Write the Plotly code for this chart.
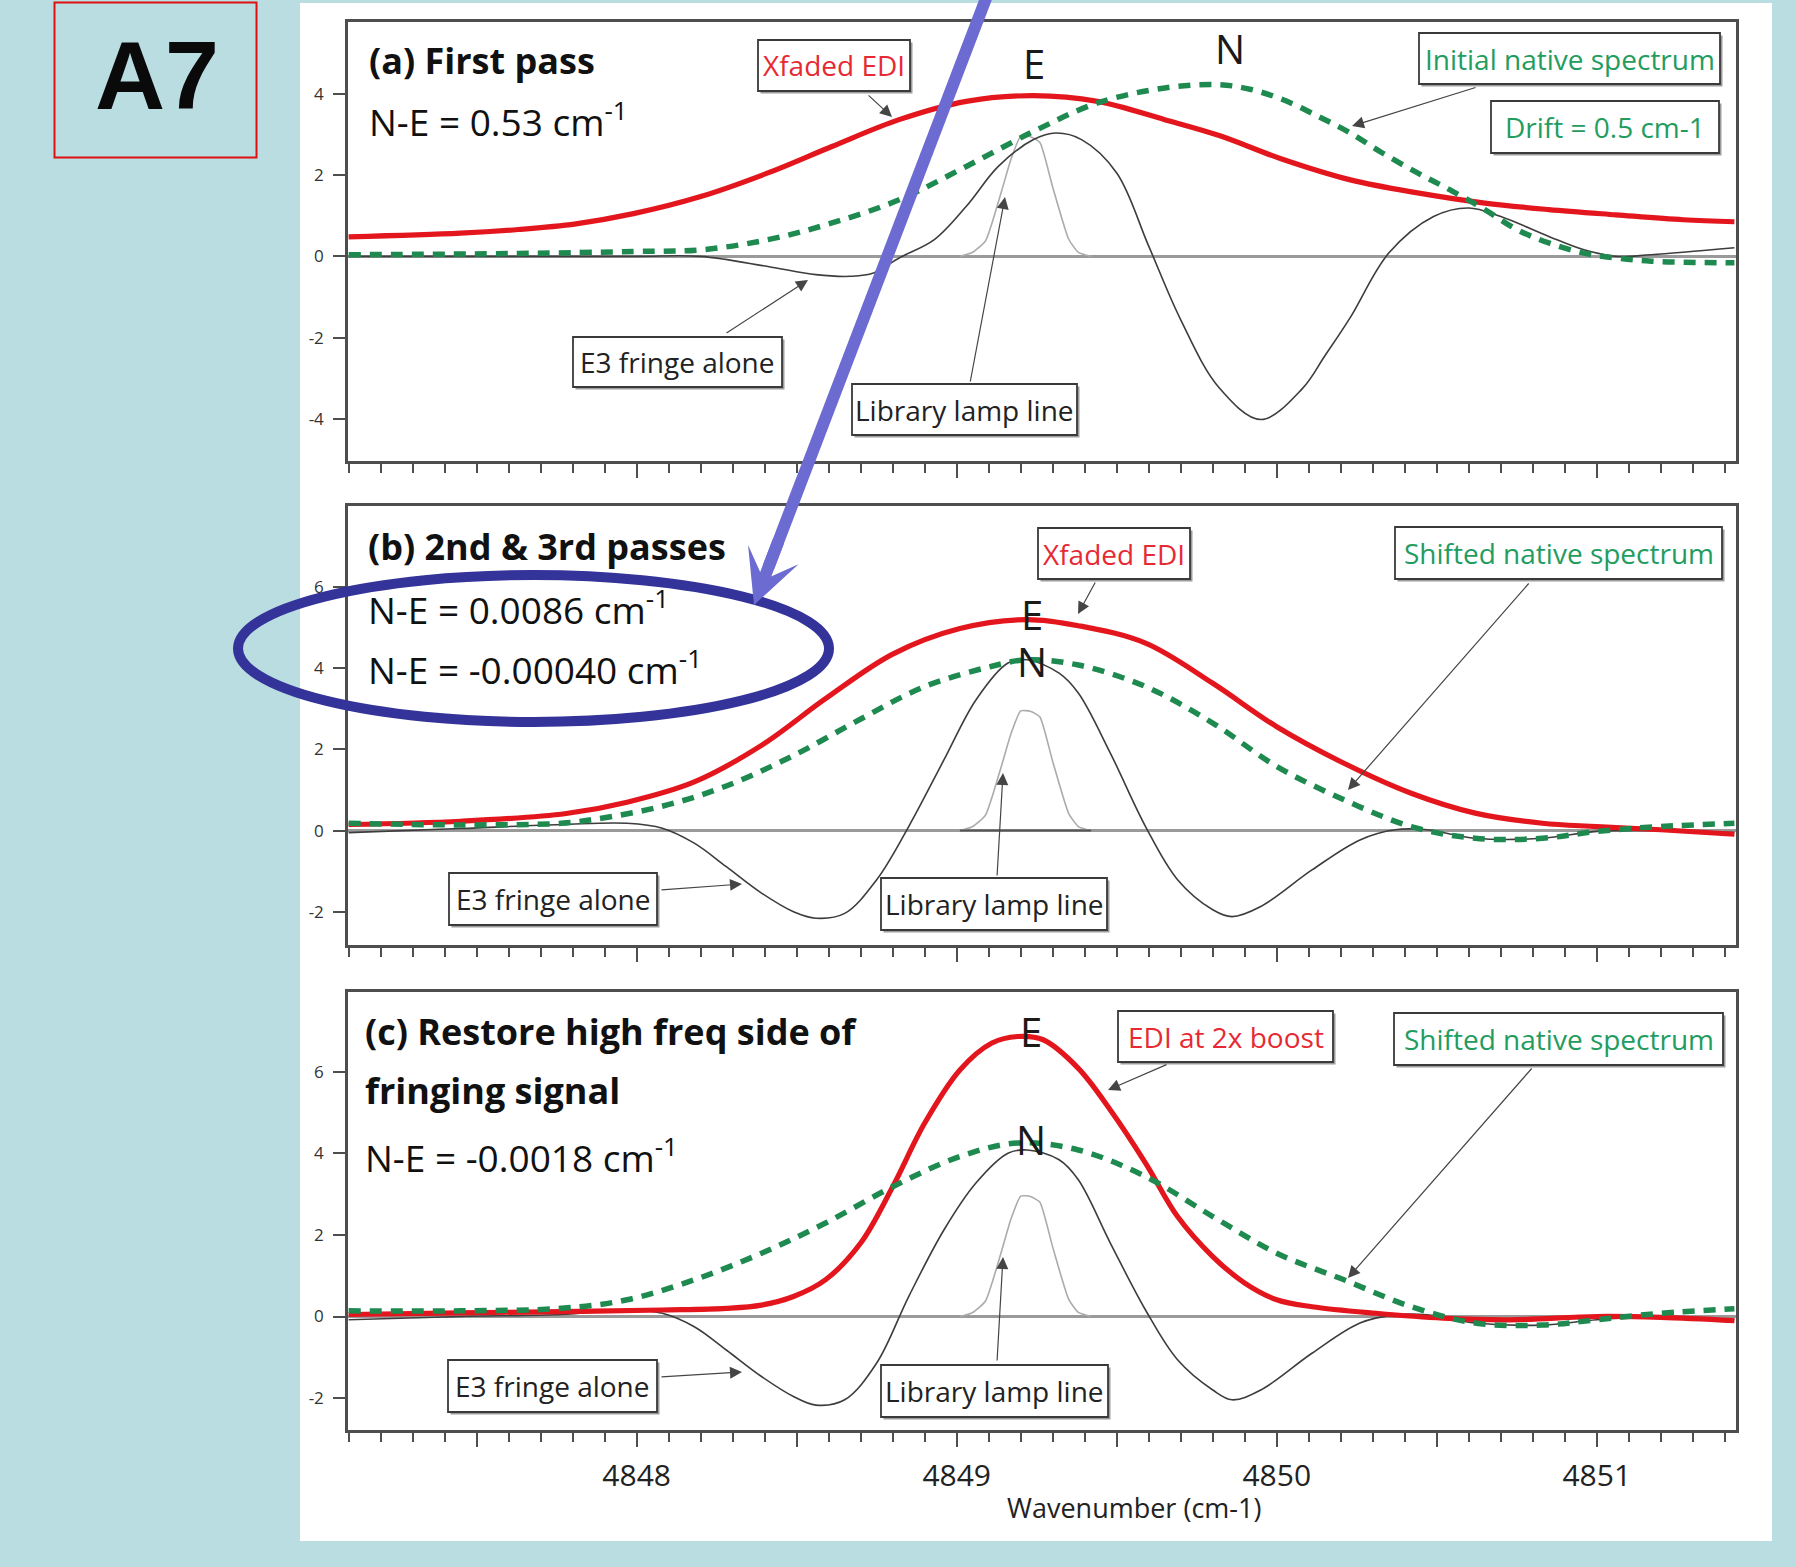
import plotly.graph_objects as go

W, H = 1796, 1567

# ------------------------------------------------------------------ data
X_RANGE = [4847.098, 4851.435]
Y_RANGES = [[-5.03, 5.76], [-2.82, 8.00], [-2.78, 7.95]]
X_TICKS = [4847.5, 4848.0, 4848.5, 4849.0, 4849.5, 4850.0, 4850.5, 4851.0]
X_TICK_LABELS = ["", "4848", "", "4849", "", "4850", "", "4851"]
Y_TICKS = [[-4, -2, 0, 2, 4], [-2, 0, 2, 4, 6], [-2, 0, 2, 4, 6]]
Y_TICK_LABELS = [["-4", "-2", "0", "2", "4"], ["-2", "0", "2", "4", "6"], ["-2", "0", "2", "4", "6"]]

LAMP_X = [4849.01, 4849.05, 4849.09, 4849.14, 4849.17, 4849.20, 4849.23, 4849.26, 4849.30, 4849.35, 4849.38, 4849.42]
LAMP_Y = [0.00, 0.10, 0.38, 1.60, 2.40, 2.95, 2.94, 2.80, 1.70, 0.42, 0.10, 0.00]

# panel (a) first pass
EDI_A_X = [4847.10, 4847.45, 4847.63, 4847.81, 4847.99, 4848.20, 4848.41, 4848.61, 4848.82, 4849.03, 4849.24,
           4849.44, 4849.65, 4849.82, 4850.02, 4850.23, 4850.44, 4850.65, 4850.85, 4851.06, 4851.27, 4851.43]
EDI_A_Y = [0.48, 0.57, 0.66, 0.80, 1.05, 1.47, 2.05, 2.70, 3.36, 3.81, 3.95,
           3.81, 3.36, 2.97, 2.38, 1.88, 1.56, 1.31, 1.15, 1.02, 0.90, 0.85]
NATIVE_A_X = [4847.10, 4847.63, 4847.99, 4848.20, 4848.41, 4848.61, 4848.82, 4849.03, 4849.24, 4849.44, 4849.65,
              4849.82, 4849.92, 4850.02, 4850.13, 4850.23, 4850.33, 4850.44, 4850.54, 4850.65, 4850.75, 4850.85,
              4850.96, 4851.06, 4851.17, 4851.43]
NATIVE_A_Y = [0.04, 0.07, 0.12, 0.16, 0.41, 0.82, 1.39, 2.21, 3.07, 3.77, 4.14,
              4.22, 4.10, 3.85, 3.44, 3.03, 2.54, 2.05, 1.64, 1.15, 0.66, 0.33,
              0.08, -0.04, -0.12, -0.16]
FRINGE_A_X = [4847.10, 4847.60, 4848.00, 4848.20, 4848.41, 4848.56, 4848.67, 4848.74, 4848.82, 4848.93, 4849.03,
              4849.13, 4849.24, 4849.31, 4849.39, 4849.50, 4849.60, 4849.70, 4849.82, 4849.95, 4850.08, 4850.15,
              4850.23, 4850.35, 4850.49, 4850.60, 4850.70, 4850.85, 4850.96, 4851.06, 4851.17, 4851.43]
FRINGE_A_Y = [0.00, 0.00, 0.00, 0.00, -0.25, -0.45, -0.49, -0.41, -0.04, 0.41, 1.23,
              2.21, 2.87, 3.03, 2.87, 2.05, 0.25, -1.56, -3.23, -4.01, -3.25, -2.45,
              -1.50, 0.08, 0.98, 1.19, 0.98, 0.49, 0.16, 0.00, 0.04, 0.21]

# panel (b) 2nd & 3rd passes
EDI_B_X = [4847.10, 4847.45, 4847.78, 4847.97, 4848.18, 4848.39, 4848.59, 4848.80, 4849.01, 4849.22, 4849.38,
           4849.59, 4849.80, 4850.00, 4850.21, 4850.42, 4850.62, 4850.83, 4851.00, 4851.20, 4851.43]
EDI_B_Y = [0.15, 0.23, 0.42, 0.70, 1.20, 2.10, 3.25, 4.35, 4.98, 5.20, 5.05,
           4.62, 3.63, 2.56, 1.66, 0.92, 0.43, 0.18, 0.10, 0.02, -0.09]
NATIVE_B_X = [4847.10, 4847.45, 4847.765, 4847.87, 4848.08, 4848.28, 4848.49, 4848.70, 4848.90, 4849.11, 4849.22,
              4849.38, 4849.59, 4849.80, 4850.00, 4850.21, 4850.42, 4850.62, 4850.83, 4851.00, 4851.20, 4851.43]
NATIVE_B_Y = [0.18, 0.14, 0.18, 0.28, 0.60, 1.10, 1.85, 2.75, 3.55, 4.05, 4.21,
              4.08, 3.55, 2.65, 1.58, 0.76, 0.10, -0.19, -0.19, -0.02, 0.10, 0.18]
FRINGE_B_X = [4847.10, 4847.45, 4847.765, 4847.97, 4848.08, 4848.18, 4848.28, 4848.39, 4848.49, 4848.56, 4848.65,
              4848.75, 4848.85, 4848.96, 4849.06, 4849.16, 4849.22, 4849.32, 4849.38, 4849.48, 4849.59, 4849.69,
              4849.80, 4849.86, 4849.95, 4850.11, 4850.26, 4850.37, 4850.47, 4850.62, 4850.83, 4851.00, 4851.20,
              4851.43]
FRINGE_B_Y = [-0.05, 0.05, 0.15, 0.18, 0.06, -0.31, -0.89, -1.54, -2.00, -2.16, -2.04,
              -1.21, 0.10, 1.74, 3.22, 4.13, 4.21, 3.88, 3.39, 1.91, 0.10, -1.21,
              -1.95, -2.12, -1.87, -0.97, -0.23, 0.02, 0.02, -0.19, -0.19, -0.02, 0.00,
              -0.05]

# panel (c) restore high freq side
EDI_C_X = [4847.10, 4847.45, 4847.765, 4848.08, 4848.28, 4848.39, 4848.49, 4848.59, 4848.70, 4848.80, 4848.90,
           4849.01, 4849.11, 4849.19, 4849.27, 4849.38, 4849.48, 4849.59, 4849.69, 4849.80, 4849.90, 4850.00,
           4850.11, 4850.31, 4850.52, 4850.73, 4851.00, 4851.20, 4851.43]
EDI_C_Y = [0.05, 0.09, 0.12, 0.16, 0.20, 0.28, 0.49, 0.90, 1.80, 3.18, 4.74,
           6.04, 6.70, 6.86, 6.78, 6.08, 5.06, 3.76, 2.45, 1.47, 0.82, 0.41,
           0.24, 0.08, -0.04, -0.08, 0.00, -0.02, -0.10]
NATIVE_C_X = [4847.10, 4847.45, 4847.765, 4847.97, 4848.18, 4848.39, 4848.59, 4848.80, 4849.01, 4849.19, 4849.38,
              4849.59, 4849.80, 4850.00, 4850.21, 4850.42, 4850.62, 4850.83, 4851.00, 4851.20, 4851.43]
NATIVE_C_Y = [0.14, 0.14, 0.20, 0.41, 0.90, 1.55, 2.29, 3.18, 3.92, 4.25, 4.08,
              3.43, 2.45, 1.55, 0.90, 0.24, -0.16, -0.21, -0.08, 0.08, 0.19]
FRINGE_C_X = FRINGE_B_X
FRINGE_C_Y = [-0.08, 0.00, 0.05, 0.16, 0.08, -0.25, -0.82, -1.47, -1.96, -2.17, -2.04,
              -1.14, 0.49, 2.12, 3.27, 4.00, 4.08, 3.84, 3.35, 1.80, 0.16, -1.06,
              -1.80, -2.04, -1.80, -0.90, -0.16, 0.04, 0.04, -0.16, -0.21, -0.08, 0.00,
              -0.08]

PANEL_TITLES = [["<b>(a) First pass</b>", "N-E = 0.53 cm<sup>-1</sup>"],
                ["<b>(b) 2nd &amp; 3rd passes</b>", "N-E = 0.0086 cm<sup>-1</sup>", "N-E = -0.00040 cm<sup>-1</sup>"],
                ["<b>(c) Restore high freq side of</b>", "<b>fringing signal</b>", "N-E = -0.0018 cm<sup>-1</sup>"]]

# ------------------------------------------------------------------ styles
BG = "#badde1"
RED = "#e4161d"
RED_TXT = "#e62a33"
GREEN = "#1e8a50"
GREEN_TXT = "#239c5f"
FRINGE_COL = "#3d3d3d"
LAMP_COL = "#ababab"
FRAME = "#4e4e4e"
BLUE_ARROW = "#6b6bd1"
FONT = "Open Sans, Lato, sans-serif"


def P(x):
    return x / W


def Q(y):
    return 1 - y / H


X_DOMAIN = [P(348), P(1736)]
Y_DOMAINS = [[Q(461), Q(22)], [Q(945), Q(506)], [Q(1430), Q(992)]]

fig = go.Figure()

panels = [
    (EDI_A_X, EDI_A_Y, NATIVE_A_X, NATIVE_A_Y, FRINGE_A_X, FRINGE_A_Y),
    (EDI_B_X, EDI_B_Y, NATIVE_B_X, NATIVE_B_Y, FRINGE_B_X, FRINGE_B_Y),
    (EDI_C_X, EDI_C_Y, NATIVE_C_X, NATIVE_C_Y, FRINGE_C_X, FRINGE_C_Y),
]

for i, (ex, ey, nx, ny, fx, fy) in enumerate(panels):
    xa = "x" if i == 0 else f"x{i + 1}"
    ya = "y" if i == 0 else f"y{i + 1}"
    fig.add_trace(go.Scatter(x=LAMP_X, y=LAMP_Y, xaxis=xa, yaxis=ya, mode="lines",
                             line=dict(color=LAMP_COL, width=1.6, shape="spline", smoothing=0.5),
                             hoverinfo="skip", showlegend=False))
    if i == 1:
        fig.add_trace(go.Scatter(x=[LAMP_X[0], LAMP_X[-1]], y=[LAMP_Y[0], LAMP_Y[-1]], xaxis=xa, yaxis=ya,
                                 mode="lines", line=dict(color="#555555", width=2),
                                 hoverinfo="skip", showlegend=False))
    fig.add_trace(go.Scatter(x=fx, y=fy, xaxis=xa, yaxis=ya, mode="lines",
                             line=dict(color=FRINGE_COL, width=1.6, shape="spline", smoothing=1.0),
                             hoverinfo="skip", showlegend=False))
    fig.add_trace(go.Scatter(x=ex, y=ey, xaxis=xa, yaxis=ya, mode="lines",
                             line=dict(color=RED, width=5.2, shape="spline", smoothing=1.0),
                             hoverinfo="skip", showlegend=False))
    fig.add_trace(go.Scatter(x=nx, y=ny, xaxis=xa, yaxis=ya, mode="lines",
                             line=dict(color=GREEN, width=5.5, dash="12px,9px", shape="spline", smoothing=1.0),
                             hoverinfo="skip", showlegend=False))

layout_axes = {}
for i in range(3):
    xk = "xaxis" if i == 0 else f"xaxis{i + 1}"
    yk = "yaxis" if i == 0 else f"yaxis{i + 1}"
    ya = "y" if i == 0 else f"y{i + 1}"
    xa = "x" if i == 0 else f"x{i + 1}"
    layout_axes[xk] = dict(
        domain=X_DOMAIN, range=X_RANGE, anchor=ya, showline=True, mirror=True,
        linecolor=FRAME, linewidth=2.5, showgrid=False, zeroline=False,
        ticks="outside", ticklen=14, tickwidth=2, tickcolor=FRAME,
        tickmode="array", tickvals=X_TICKS, ticktext=X_TICK_LABELS,
        showticklabels=(i == 2), ticklabelstandoff=3,
        tickfont=dict(family=FONT, size=30, color="#222222"),
        minor=dict(ticks="outside", ticklen=9, tickwidth=1.5, tickcolor=FRAME,
                   tick0=4847.0, dtick=0.1, showgrid=False),
    )
    layout_axes[yk] = dict(
        domain=Y_DOMAINS[i], range=Y_RANGES[i], anchor=xa, showline=True, mirror=True,
        linecolor=FRAME, linewidth=2.5, showgrid=False,
        zeroline=True, zerolinecolor="#9a9a9a", zerolinewidth=2.5,
        ticks="outside", ticklen=12, tickwidth=1.5, tickcolor=FRAME,
        tickmode="array", tickvals=Y_TICKS[i], ticktext=Y_TICK_LABELS[i], ticklabelstandoff=6,
        tickfont=dict(family=FONT, size=17, color="#333333"),
    )

shapes = []
annotations = []

# white slide panel and the A7 tag
shapes.append(dict(type="rect", xref="paper", yref="paper", x0=P(300), x1=P(1772), y0=Q(1541), y1=Q(3),
                   fillcolor="white", line=dict(width=0), layer="below"))
shapes.append(dict(type="rect", xref="paper", yref="paper", x0=P(54.5), x1=P(256.5), y0=Q(157.5), y1=Q(2.5),
                   fillcolor="rgba(0,0,0,0)", line=dict(color="#e01010", width=2), layer="above"))
annotations.append(dict(xref="paper", yref="paper", x=P(157), y=Q(76), text="<b>A7</b>", showarrow=False,
                        xanchor="center", yanchor="middle",
                        font=dict(family="Liberation Sans, Arial, sans-serif", size=97, color="#0a0a0a")))


def txt(x, y, s, size, color="#111111", xanchor="left"):
    annotations.append(dict(xref="paper", yref="paper", x=P(x), y=Q(y), text=s, showarrow=False,
                            xanchor=xanchor, yanchor="middle",
                            font=dict(family=FONT, size=size, color=color)))


def box(x0, y0, x1, y1, s, color):
    shapes.append(dict(type="rect", xref="paper", yref="paper", x0=P(x0 + 2.5), x1=P(x1 + 2.5),
                       y0=Q(y1 + 2.5), y1=Q(y0 + 2.5), fillcolor="#9c9c9c", line=dict(width=0), layer="above"))
    shapes.append(dict(type="rect", xref="paper", yref="paper", x0=P(x0), x1=P(x1), y0=Q(y1), y1=Q(y0),
                       fillcolor="white", line=dict(color="#3a3a3a", width=1.8), layer="above"))
    txt((x0 + x1) / 2, (y0 + y1) / 2, s, 28, color, xanchor="center")


def arrow(xt, yt, xh, yh, color="#454545", width=1.2, head=2, size=2.0):
    annotations.append(dict(xref="paper", yref="paper", x=P(xh), y=Q(yh), ax=xt - xh, ay=yt - yh,
                            axref="pixel", ayref="pixel", text="", showarrow=True,
                            arrowhead=head, arrowsize=size, arrowwidth=width, arrowcolor=color,
                            standoff=0, startstandoff=0))


# panel texts
title_rows = [[60, 120], [547, 607, 667], [1031, 1090, 1155]]
title_x = [367, 366, 363]
for i, rows in enumerate(title_rows):
    for j, yy in enumerate(rows):
        s = PANEL_TITLES[i][j]
        txt(title_x[i], yy, s, 36 if s.startswith("<b>") else 37)

# peak letters
for (xx, yy, s) in [(1034, 63, "E"), (1230, 49, "N"),
                    (1032, 614, "E"), (1032, 661, "N"),
                    (1031, 1031, "E"), (1031, 1139, "N")]:
    txt(xx, yy, s, 40, "#1a1a1a", xanchor="center")

# boxes
box(758, 40, 910, 91, "Xfaded EDI", RED_TXT)
box(1419, 33, 1720, 84, "Initial native spectrum", GREEN_TXT)
box(1491, 101, 1719, 153, "Drift = 0.5 cm-1", GREEN_TXT)
box(573, 337, 782, 387, "E3 fringe alone", "#222222")
box(852, 384, 1077, 435, "Library lamp line", "#222222")

box(1038, 528, 1190, 579, "Xfaded EDI", RED_TXT)
box(1395, 527, 1722, 579, "Shifted native spectrum", GREEN_TXT)
box(449, 873, 657, 925, "E3 fringe alone", "#222222")
box(881, 878, 1107, 930, "Library lamp line", "#222222")

box(1118, 1011, 1333, 1062, "EDI at 2x boost", RED_TXT)
box(1394, 1013, 1723, 1065, "Shifted native spectrum", GREEN_TXT)
box(448, 1360, 657, 1412, "E3 fringe alone", "#222222")
box(881, 1365, 1108, 1417, "Library lamp line", "#222222")

# callout arrows
arrow(867, 94, 892, 117)
arrow(1477, 87, 1352, 126)
arrow(725, 334, 808, 280)
arrow(970, 383, 1005, 197)
arrow(1096, 581, 1078, 614)
arrow(1530, 582, 1348, 790)
arrow(660, 890, 742, 884)
arrow(997, 877, 1003, 773)
arrow(1168, 1064, 1108, 1090)
arrow(1533, 1067, 1348, 1278)
arrow(660, 1377, 742, 1372)
arrow(997, 1362, 1003, 1257)

# x-axis title
txt(1134, 1507, "Wavenumber (cm-1)", 27, "#222222", xanchor="center")

# highlight ellipse
shapes.append(dict(type="circle", xref="paper", yref="paper", x0=P(238), x1=P(829), y0=Q(722), y1=Q(575),
                   line=dict(color="#343399", width=10), fillcolor="rgba(0,0,0,0)", layer="above"))

# big pointer arrow: shaft as a shape (enters from above the page), head as a short annotation arrow
TIP = (754, 605)
TOP = (990, -12)
dx, dy = TIP[0] - TOP[0], TIP[1] - TOP[1]
L = (dx * dx + dy * dy) ** 0.5
ux, uy = dx / L, dy / L
shaft_end = (TIP[0] - 40 * ux, TIP[1] - 40 * uy)
head_tail = (TIP[0] - 70 * ux, TIP[1] - 70 * uy)
shapes.append(dict(type="line", xref="paper", yref="paper", x0=P(TOP[0]), y0=Q(TOP[1]),
                   x1=P(shaft_end[0]), y1=Q(shaft_end[1]),
                   line=dict(color=BLUE_ARROW, width=12), layer="above"))
annotations.append(dict(xref="paper", yref="paper", x=P(TIP[0]), y=Q(TIP[1]),
                        ax=head_tail[0] - TIP[0], ay=head_tail[1] - TIP[1],
                        axref="pixel", ayref="pixel", text="", showarrow=True,
                        arrowhead=3, arrowsize=0.75, arrowwidth=12, arrowcolor=BLUE_ARROW,
                        standoff=0, startstandoff=0))

fig.update_layout(
    width=W, height=H, autosize=False,
    margin=dict(l=0, r=0, t=0, b=0, pad=0, autoexpand=False),
    paper_bgcolor=BG, plot_bgcolor="white",
    showlegend=False, font=dict(family=FONT),
    shapes=shapes, annotations=annotations,
    **layout_axes,
)

fig.write_html("out.html", config={"displayModeBar": False},
               post_script="document.body.style.margin='0';document.body.style.overflow='hidden';")
